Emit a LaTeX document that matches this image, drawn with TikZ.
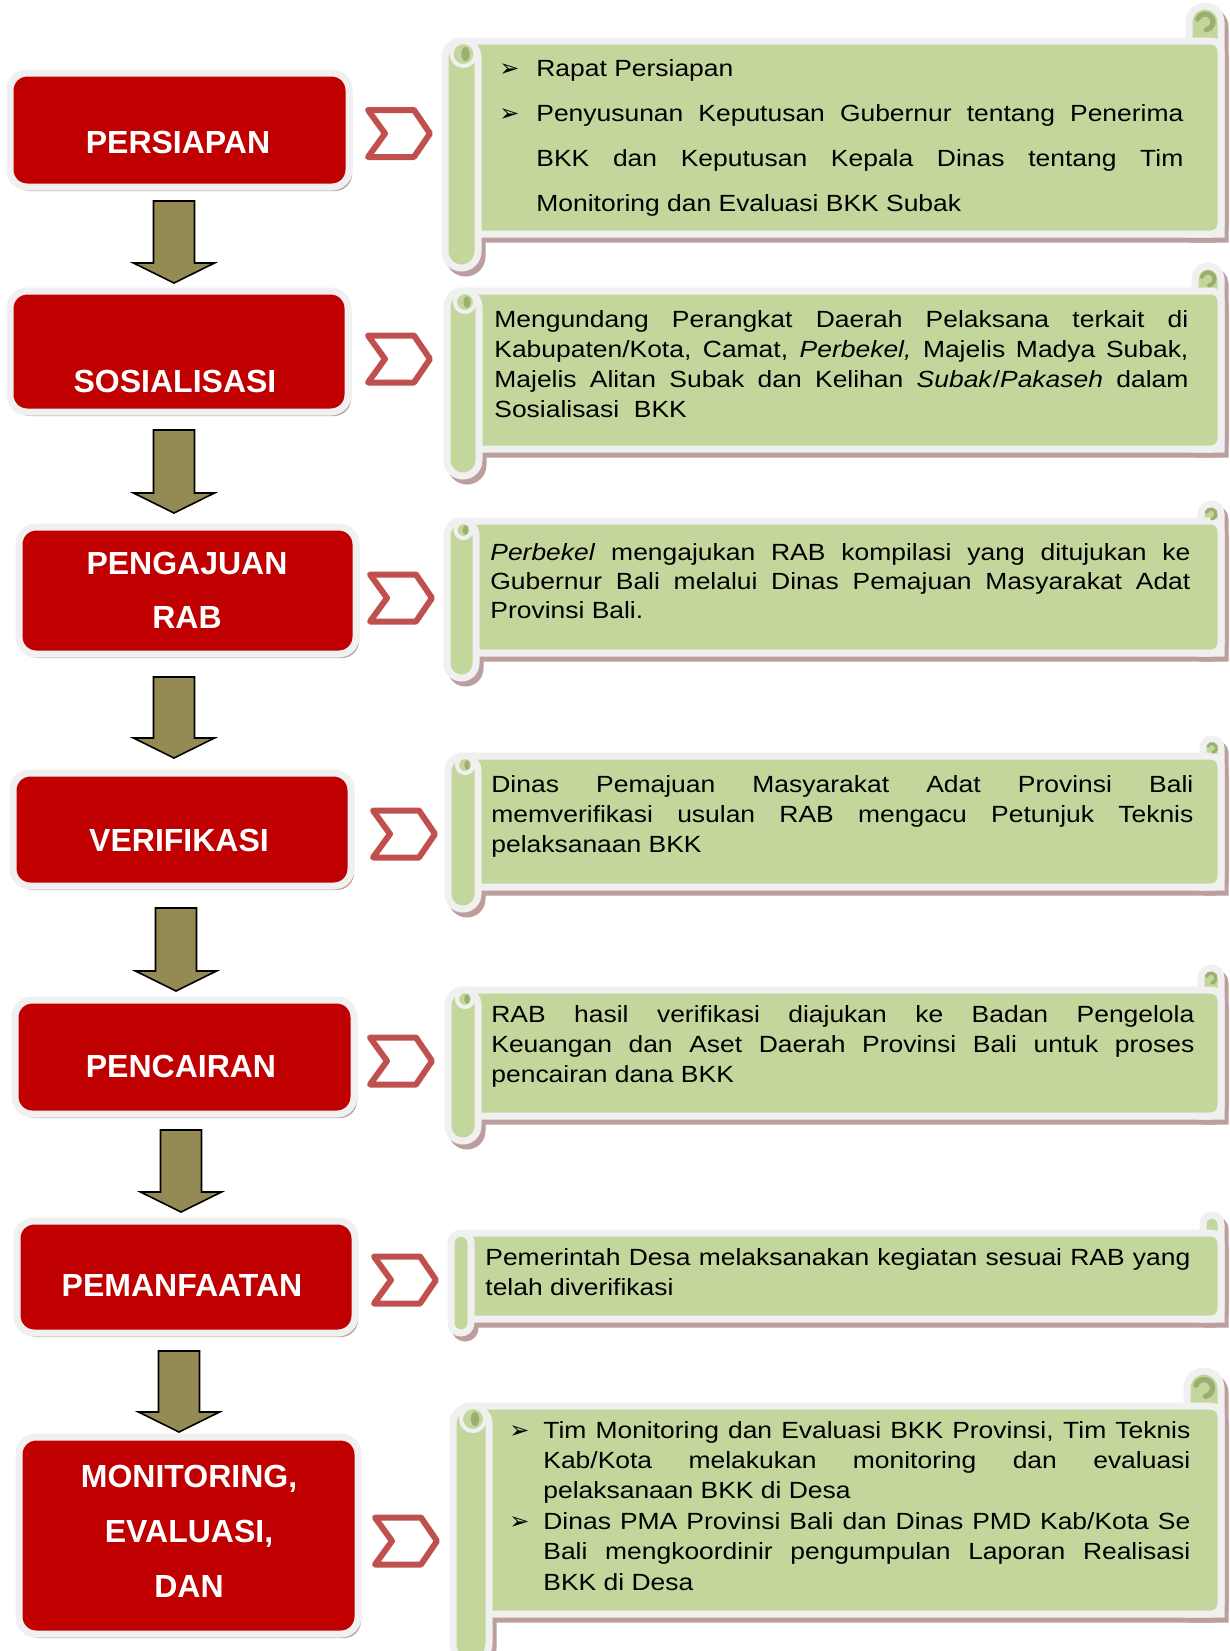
\documentclass[tikz,border=0pt]{standalone}
\usepackage{fontspec}
\setmainfont{Liberation Sans}
\newfontfamily\bodyfont[FakeStretch=1.13]{Liberation Sans}
\newfontfamily\bulletfont{DejaVu Sans}
\usetikzlibrary{fit,shadows}

\definecolor{boxred}{HTML}{C00000}
\definecolor{rim}{HTML}{F0F0F0}
\definecolor{shade}{HTML}{BC9E9E}
\definecolor{scrollgreen}{HTML}{C3D69B}
\definecolor{curlgreen}{HTML}{9AAF70}
\definecolor{arrowolive}{HTML}{948A54}
\definecolor{chevred}{HTML}{C0504D}

\tikzset{
  redbox/.style={draw=rim, line width=3.5pt, fill=boxred, rounded corners=8.5pt, inner sep=0pt,
    general shadow={fill=shade, shadow xshift=1.5pt, shadow yshift=-2pt}},
  redtext/.style={text=white, font=\bfseries\fontsize{16pt}{19pt}\selectfont, anchor=base, inner sep=0pt},
  blockarrow/.style={fill=arrowolive, draw=black, line width=0.8pt, line join=miter},
  chevron/.style={draw=chevred, line width=3pt, fill=white, line join=round},
  scrollfill/.style={fill=scrollgreen, draw=rim, line width=3.5pt},
  scrollshadow/.style={fill=shade, draw=shade, line width=3.5pt},
  curl/.style={draw=curlgreen, line cap=round},
  bodytext/.style={anchor=base west, inner sep=0pt, align=justify,
    font=\bodyfont\fontsize{11.7pt}{15pt}\selectfont},
}

\newcommand\bitem[2]{\hangindent=#1\hangafter=1\makebox[#1][l]{\bulletfont\fontsize{12pt}{12pt}\selectfont\char"27A2}#2\par}

% #1 top, #2 bottom, #3 roll bottom, #4 roll left, #5 roll right, #6 TR cy, #7 TR r, #8 curl r, #9 name
\newcommand\scrollshape[9]{%
  \pgfmathsetmacro\rr{(#5-#4)/4}%
  \pgfmathsetmacro\trx{1221-#7}%
  \begin{scope}[shift={(4,5)}]
    \path[scrollshadow] (1221,#2) -- (1221,#6) arc[start angle=0,end angle=-180,radius=#7] -- ({1221-2*#7},#2) -- cycle;
    \path[scrollshadow, rounded corners=5pt] ({#4+6},#1) rectangle (1221,#2);
    \path[scrollshadow, rounded corners=\rr pt] (#4,#1) rectangle (#5,#3);
  \end{scope}
  \path[scrollfill] (1221,#2) -- (1221,#6) arc[start angle=0,end angle=-180,radius=#7] -- ({1221-2*#7},#2) -- cycle;
  \path[scrollfill, rounded corners=5pt] ({#4+6},#1) rectangle (1221,#2);
  \path[scrollfill, rounded corners=\rr pt] (#4,#1) rectangle (#5,#3);
  \ifdim #8pt>0pt
    \path[draw=rim, line width=2pt, fill=scrollgreen] ({(#4+#5)/2+2},{#1+#8+1}) circle[radius=#8];
    \fill[curlgreen] ({(#4+#5)/2+4},{#1+#8+1}) ellipse[x radius={0.35*#8}, y radius={0.6*#8}];
    \begin{scope}[shift={(\trx,#6)}]
      \draw[curl, line width={0.16pt*#7}] (200:{0.5*#7}) arc[start angle=200,end angle=440,radius={0.5*#7}];
    \end{scope}
  \fi
  \coordinate (#9) at ({(#5+1221)/2},{(#1+#2)/2});
}

\newcommand\chevronshape[2]{\draw[chevron] (#1,{#2-23.5}) -- ({#1+46},{#2-23.5}) -- ({#1+62},#2) -- ({#1+46},{#2+23.5}) -- (#1,{#2+23.5}) -- ({#1+17},#2) -- cycle;}

\newcommand\downblock[3]{\draw[blockarrow] ({#1-20.5},#2) -- ({#1+20.5},#2) -- ({#1+20.5},{#3-20}) -- ({#1+40.5},{#3-20}) -- (#1,#3) -- ({#1-40.5},{#3-20}) -- ({#1-20.5},{#3-20}) -- cycle;}

\begin{document}
\begin{tikzpicture}[x=0.5pt,y=-0.5pt]
\useasboundingbox (0,0) rectangle (1230,1651);
\fill[white] (0,0) rectangle (1230,1651);

% ---------- scrolls ----------
\scrollshape{41}{234}{268}{445}{478}{22}{16}{12}{s1}
\scrollshape{291}{449}{476}{447}{479}{279}{13}{10}{s2}
\scrollshape{521}{653}{678}{447}{476}{514}{10}{8}{s3}
\scrollshape{756}{887}{909}{448}{478}{748}{9}{8}{s4}
\scrollshape{990}{1116}{1141}{448}{478}{978}{10}{8}{s5}
\scrollshape{1233}{1319}{1333}{451}{471}{1224}{9}{0}{s6}
\scrollshape{1406}{1614}{1662}{453}{489}{1388}{17}{12}{s7}

% ---------- red boxes ----------
\node[redbox, fit={(10,73) (349,187)}] (b1) {};
\node[redbox, fit={(10,291) (348,412)}] (b2) {};
\node[redbox, fit={(19,527) (356,654)}] (b3) {};
\node[redbox, fit={(13,773) (351,886)}] (b4) {};
\node[redbox, fit={(15,1000) (354,1114)}] (b5) {};
\node[redbox, fit={(17,1221) (355,1333)}] (b6) {};
\node[redbox, fit={(19,1437) (358,1634)}] (b7) {};

\node[redtext] (l1) at (178,153) {PERSIAPAN};
\node[redtext] (l2) at (175,392) {SOSIALISASI};
\node[redtext] (l3a) at (187,574) {PENGAJUAN};
\node[redtext] (l3b) at (187,628) {RAB};
\node[redtext] (l4) at (179,851) {VERIFIKASI};
\node[redtext] (l5) at (181,1077) {PENCAIRAN};
\node[redtext] (l6) at (182,1296) {PEMANFAATAN};
\node[redtext] (l7a) at (189,1487) {MONITORING,};
\node[redtext] (l7b) at (189,1542) {EVALUASI,};
\node[redtext] (l7c) at (189,1597) {DAN};

% ---------- down arrows ----------
\downblock{174}{201}{283}
\downblock{174}{430}{513}
\downblock{174}{677}{758}
\downblock{176}{908}{991}
\downblock{181}{1130}{1212}
\downblock{179}{1351}{1432}

% ---------- chevrons ----------
\chevronshape{368}{133.5}
\chevronshape{368}{359}
\chevronshape{370}{598}
\chevronshape{373}{834}
\chevronshape{370}{1061}
\chevronshape{374}{1280}
\chevronshape{375}{1541}

% ---------- texts ----------
\node[bodytext, text width=342pt, font=\bodyfont\fontsize{11.7pt}{22.5pt}\selectfont] (t1) at (499,76)
{\bitem{18.5pt}{Rapat Persiapan}\bitem{18.5pt}{Penyusunan Keputusan Gubernur tentang Penerima\linebreak BKK dan Keputusan Kepala Dinas tentang Tim\linebreak Monitoring dan Evaluasi BKK Subak}};

\node[bodytext, text width=347pt, font=\bodyfont\fontsize{11.7pt}{15.15pt}\selectfont] (t2) at (494,327)
{Mengundang Perangkat Daerah Pelaksana terkait di\linebreak Kabupaten/Kota, Camat, \textit{Perbekel,} Majelis Madya Subak,\linebreak Majelis Alitan Subak dan Kelihan \textit{Subak}/\textit{Pakaseh} dalam\linebreak Sosialisasi\ \ BKK};

\node[bodytext, text width=350pt, font=\bodyfont\fontsize{11.7pt}{14.5pt}\selectfont] (t3) at (490,560)
{\textit{Perbekel} mengajukan RAB kompilasi yang ditujukan ke\linebreak Gubernur Bali melalui Dinas Pemajuan Masyarakat Adat\linebreak Provinsi Bali.};

\node[bodytext, text width=351pt] (t4) at (491,792)
{Dinas Pemajuan Masyarakat Adat Provinsi Bali\linebreak memverifikasi usulan RAB mengacu Petunjuk Teknis\linebreak pelaksanaan BKK};

\node[bodytext, text width=351.5pt] (t5) at (491,1022)
{RAB hasil verifikasi diajukan ke Badan Pengelola\linebreak Keuangan dan Aset Daerah Provinsi Bali untuk proses\linebreak pencairan dana BKK};

\node[bodytext, text width=352.5pt] (t6) at (485,1265)
{Pemerintah Desa melaksanakan kegiatan sesuai RAB yang\linebreak telah diverifikasi};

\node[bodytext, text width=340.5pt, font=\bodyfont\fontsize{11.7pt}{15.2pt}\selectfont] (t7) at (509,1438)
{\bitem{17pt}{Tim Monitoring dan Evaluasi BKK Provinsi, Tim Teknis\linebreak Kab/Kota melakukan monitoring dan evaluasi\linebreak pelaksanaan BKK di Desa}\bitem{17pt}{Dinas PMA Provinsi Bali dan Dinas PMD Kab/Kota Se\linebreak Bali mengkoordinir pengumpulan Laporan Realisasi\linebreak BKK di Desa}};
\end{tikzpicture}
\end{document}
